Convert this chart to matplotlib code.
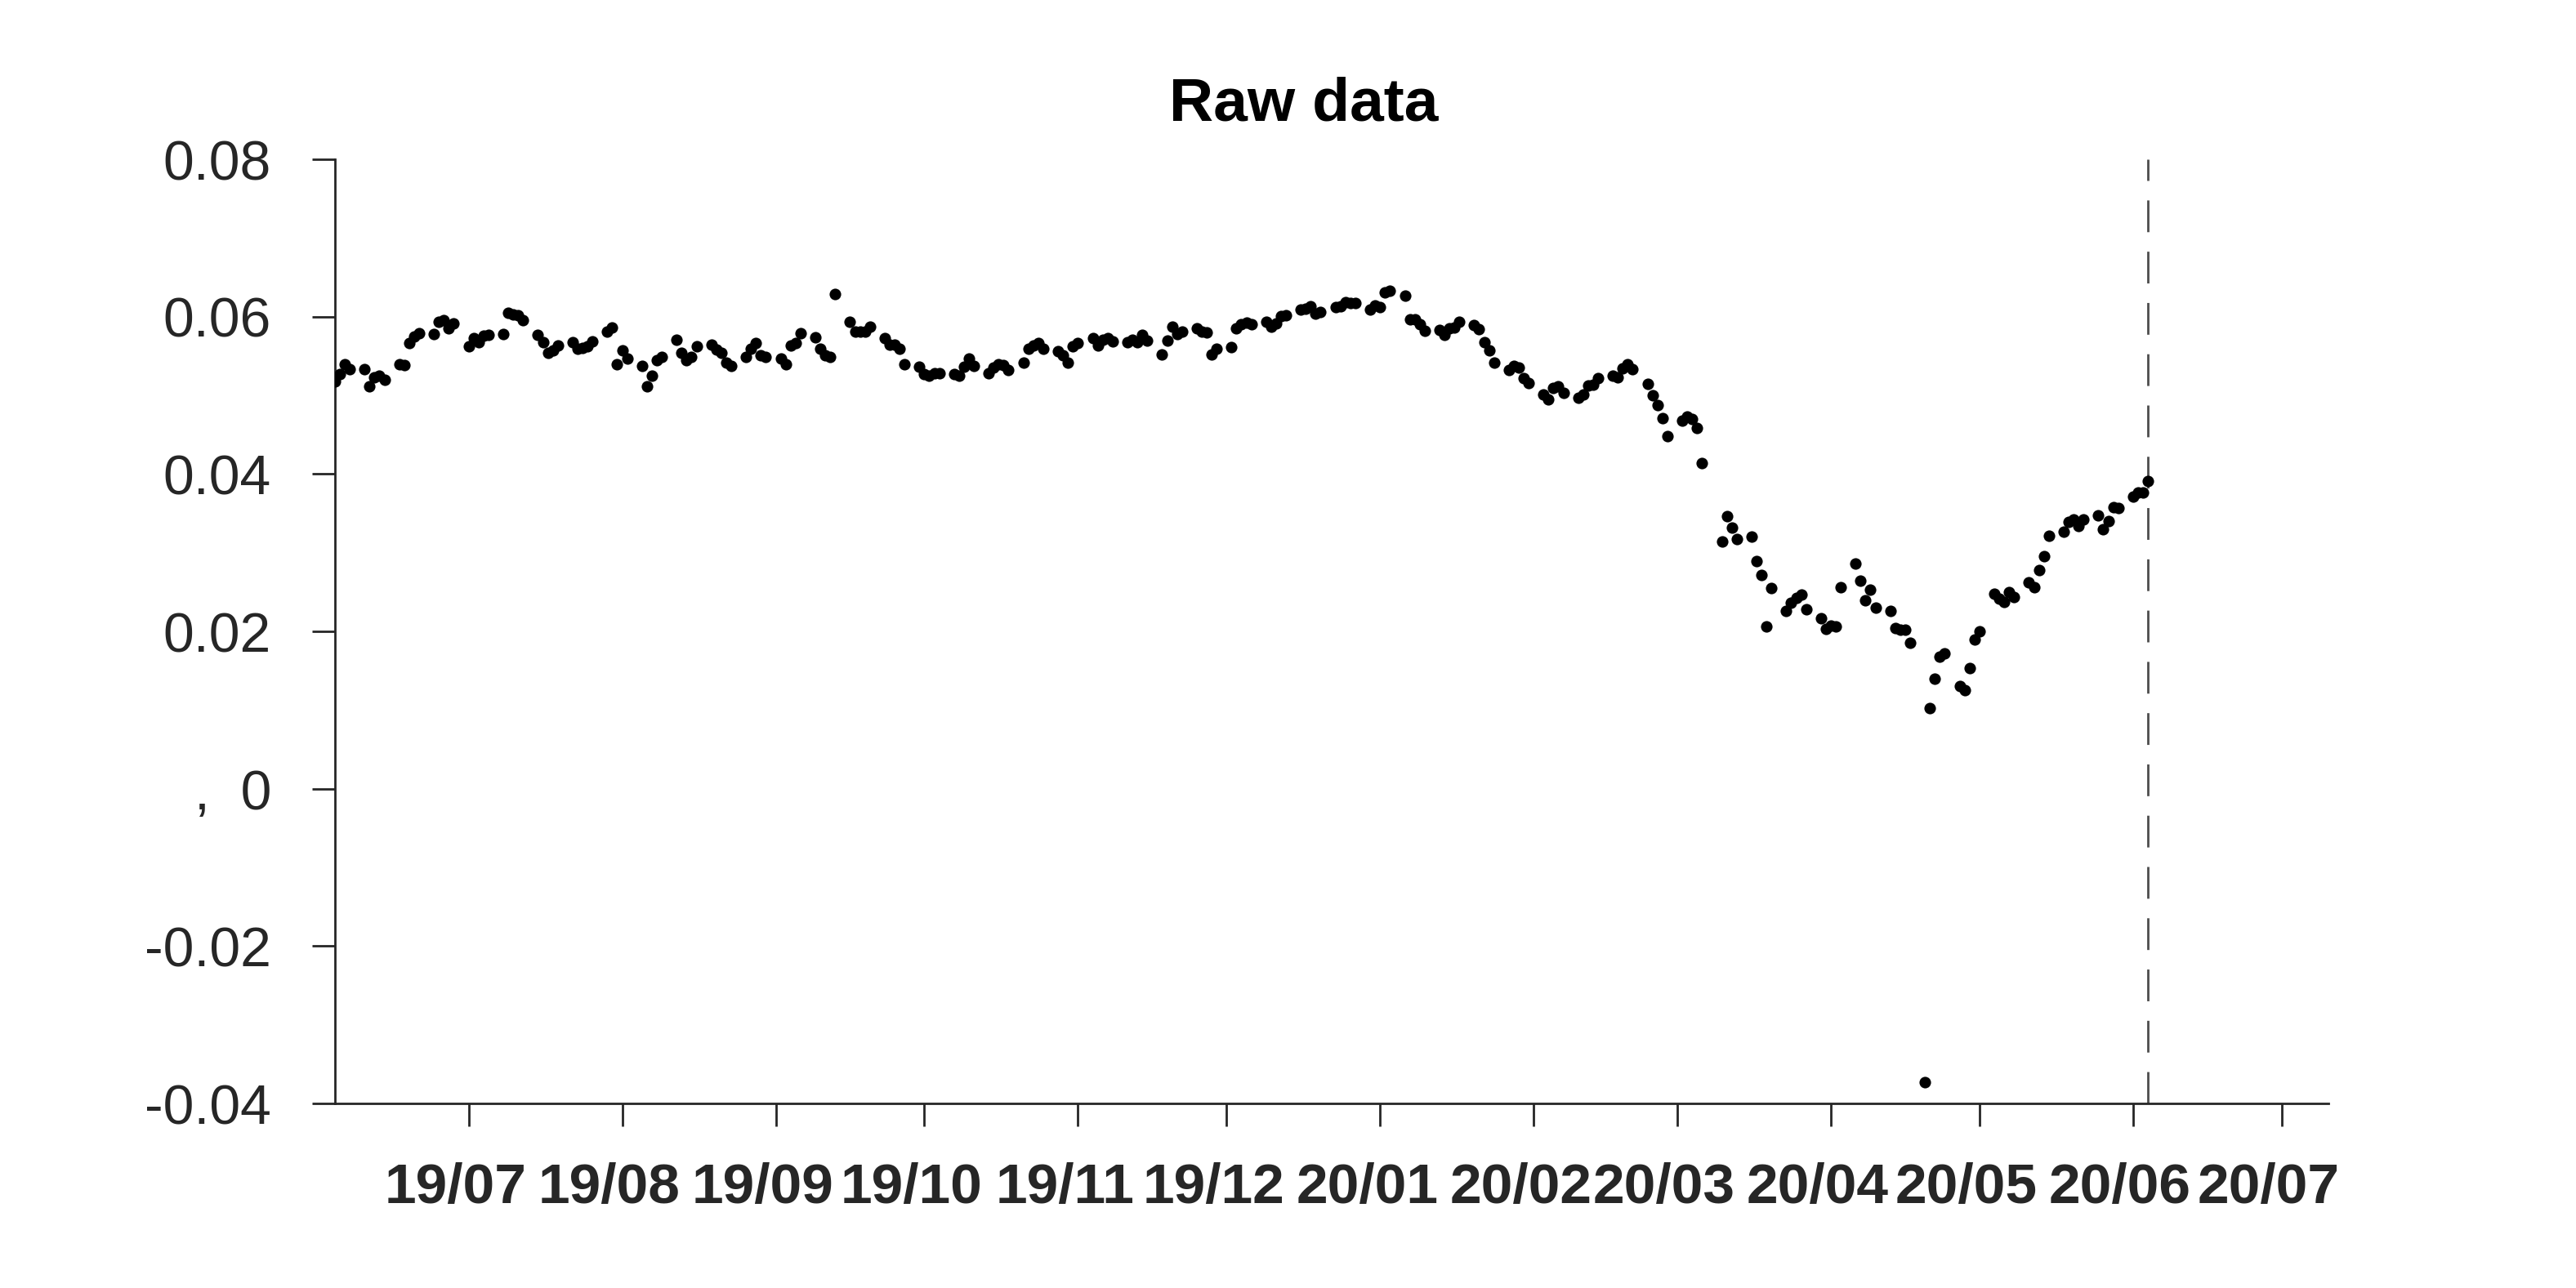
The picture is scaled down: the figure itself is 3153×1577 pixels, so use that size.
import matplotlib
matplotlib.use("Agg")
import matplotlib.pyplot as plt
import matplotlib.transforms as mtransforms
import numpy as np
import pandas as pd

plt.rcParams["font.family"] = ["Liberation Sans", "DejaVu Sans"]

jun_sep_2019 = [0.0518, 0.0527, 0.0540,
                0.0533, 0.0533, 0.0511, 0.0523, 0.0525,
                0.0520, 0.0540, 0.0538, 0.0567, 0.0575,
                0.0579, 0.0578, 0.0594, 0.0596, 0.0585,
                0.0591, 0.0562, 0.0573, 0.0568, 0.0576,
                0.0577, 0.0578, 0.0605, 0.0603, 0.0602,
                0.0596, 0.0577, 0.0568, 0.0554, 0.0557,
                0.0563, 0.0568, 0.0559, 0.0560, 0.0562,
                0.0569, 0.0581, 0.0586, 0.0540, 0.0557,
                0.0547, 0.0537, 0.0511, 0.0525, 0.0545,
                0.0549, 0.0571, 0.0554, 0.0545, 0.0549,
                0.0562, 0.0564, 0.0558, 0.0554, 0.0542,
                0.0537, 0.0549, 0.0559, 0.0567, 0.0551,
                0.0549, 0.0547, 0.0539, 0.0563, 0.0566,
                0.0579, 0.0574, 0.0559, 0.0551, 0.0549]
sep_dec_2019 = [0.0629, 0.0594, 0.0581, 0.0581, 0.0581,
                0.0587, 0.0573, 0.0564, 0.0564, 0.0559,
                0.0540, 0.0536, 0.0527, 0.0525, 0.0528,
                0.0528, 0.0527, 0.0525, 0.0536, 0.0547,
                0.0537, 0.0528, 0.0535, 0.0540, 0.0538,
                0.0532, 0.0542, 0.0559, 0.0563, 0.0567,
                0.0559, 0.0556, 0.0551, 0.0542, 0.0562,
                0.0566, 0.0573, 0.0563, 0.0571, 0.0573,
                0.0569, 0.0568, 0.0571, 0.0568, 0.0577,
                0.0570, 0.0552, 0.0570, 0.0587, 0.0578,
                0.0581, 0.0585, 0.0581, 0.0580, 0.0552]
dec_2019_mar_2020 = [0.0559, 0.0561, 0.0585, 0.0590, 0.0592,
                     0.0590, 0.0593, 0.0587, 0.0591, 0.0601,
                     0.0602, 0.0609, 0.0610, 0.0613, 0.0604,
                     0.0606, 0.0612, 0.0613, 0.0618, 0.0617,
                     0.0617, 0.0609, 0.0614, 0.0612, 0.0631,
                     0.0633, 0.0627, 0.0597, 0.0597, 0.0590,
                     0.0582, 0.0583, 0.0577, 0.0585, 0.0586,
                     0.0594, 0.0589, 0.0584, 0.0568, 0.0557, 0.0542,
                     0.0532, 0.0537, 0.0535, 0.0522, 0.0516,
                     0.0501, 0.0495, 0.0509, 0.0512, 0.0503,
                     0.0497, 0.0501, 0.0513, 0.0514, 0.0522,
                     0.0525, 0.0523, 0.0534, 0.0540, 0.0533,
                     0.0515, 0.0500, 0.0488, 0.0471, 0.0448,
                     0.0468, 0.0473, 0.0470, 0.0459, 0.0414]
# from the big drop in March up to the end of the sample
mar_jun_2020 = [0.0314, 0.0346, 0.0332, 0.0317, 0.0320,
                0.0289, 0.0272, 0.0206, 0.0255, 0.0226,
                0.0236, 0.0243, 0.0247, 0.0228, 0.0217,
                0.0203, 0.0207, 0.0206, 0.0256, 0.0286,
                0.0264, 0.0239, 0.0253, 0.0230,
                0.0226, 0.0204, 0.0202, 0.0202, 0.0185,
                -0.0373, 0.0102, 0.0140, 0.0168, 0.0172,
                0.0130, 0.0125, 0.0153, 0.0190, 0.0200,
                0.0248, 0.0242, 0.0237, 0.0250,
                0.0244, 0.0262, 0.0256, 0.0278, 0.0296,
                0.0321, 0.0327, 0.0339, 0.0342, 0.0334,
                0.0342, 0.0347, 0.0330, 0.0340, 0.0358,
                0.0357, 0.0371, 0.0377, 0.0377, 0.0391]

first = jun_sep_2019 + sep_dec_2019 + dec_2019_mar_2020
values = np.array(first + mar_jun_2020)
dates = pd.bdate_range("2019-06-04", periods=len(first)).append(
    pd.bdate_range(end="2020-06-04", periods=len(mar_jun_2020)))

month_ticks = pd.date_range("2019-07-01", "2020-07-01", freq="MS")
month_labels = [d.strftime("%y/%m") for d in month_ticks]
y_ticks = [-0.04, -0.02, 0, 0.02, 0.04, 0.06, 0.08]
y_labels = ["-0.04", "-0.02", ",  0", "0.02", "0.04", "0.06", "0.08"]

dark = "#262626"

fig = plt.figure(figsize=(15.765, 7.885), dpi=200)
ax = fig.add_axes([0.130, 0.1433, 0.774, 0.733])

ax.scatter(dates, values, s=26, c="black", linewidths=0, zorder=3)
# end of the sample
ax.axvline(dates[-1], color="#4d4d4d", lw=1.0, linestyle=(0, (14, 8.6)))

ax.set_xlim(dates[0], pd.Timestamp("2020-07-10 12:00"))
ax.set_ylim(-0.04, 0.08)

for side in ["top", "right"]:
    ax.spines[side].set_visible(False)
for side in ["left", "bottom"]:
    ax.spines[side].set_color(dark)
    ax.spines[side].set_linewidth(1.0)

ax.set_xticks(month_ticks, labels=month_labels, fontsize=25, fontweight="bold")
ax.set_yticks(y_ticks, labels=y_labels, fontsize=24.5)
ax.tick_params(axis="x", direction="out", length=10, width=1.0, pad=16, colors=dark)
ax.tick_params(axis="y", direction="out", length=10, width=1.0, pad=18, colors=dark)

# month labels sit a little left of their ticks in the original
shift = mtransforms.ScaledTranslation(-16 / 200, 0, fig.dpi_scale_trans)
for lbl in ax.get_xticklabels():
    lbl.set_transform(lbl.get_transform() + shift)

fig.text(0.506, 0.919, "Raw data", ha="center", va="center", fontsize=27, fontweight="bold")

fig.savefig("out.png", dpi=200)
